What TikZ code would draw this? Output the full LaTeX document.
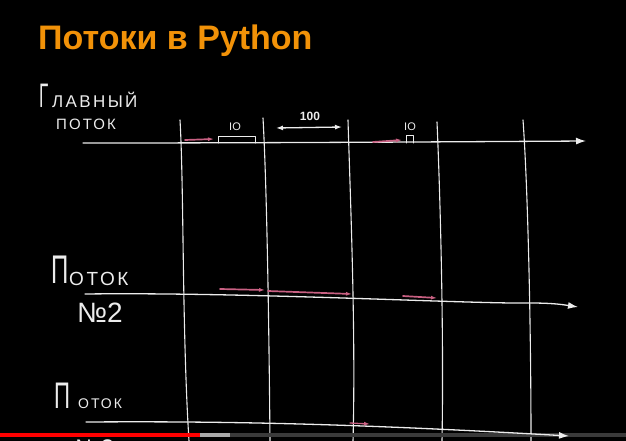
\documentclass[tikz,border=0pt]{standalone}
\usepackage{fontspec}
\setmainfont{Liberation Sans}
\newfontfamily\handfont{Liberation Sans}[LetterSpace=14]
\usetikzlibrary{arrows.meta}

\definecolor{titleorange}{RGB}{242,146,8}
\definecolor{chalk}{RGB}{236,236,236}
\definecolor{chalkpink}{RGB}{200,96,130}
\definecolor{barred}{RGB}{255,0,0}
\definecolor{barlight}{RGB}{170,170,170}
\definecolor{bardark}{RGB}{58,58,58}

\tikzset{
  chalkline/.style={draw=chalk, line width=1.3pt, line cap=round, line join=round},
  gridline/.style={draw=chalk, line width=1.1pt, line cap=round},
  timeline/.style={chalkline, -{Latex[length=10pt,width=7pt]}},
  pinkrun/.style={draw=chalkpink, line width=1.7pt, line cap=round, -{Latex[length=6pt,width=4pt]}},
  handtext/.style={text=chalk, inner sep=0pt, anchor=base west, font=\handfont},
  iolabel/.style={text=chalk, inner sep=0pt, anchor=base, font=\fontsize{11}{11}\selectfont}
}

\begin{document}
\begin{tikzpicture}[x=1pt,y=-1pt]
\fill[black] (0,0) rectangle (626,441);
\useasboundingbox (0,0) rectangle (626,441);
\begin{scope}
\clip (0,0) rectangle (626,441);

% title
\node[text=titleorange, inner sep=0pt, anchor=base west,
      font=\bfseries\fontsize{34}{34}\selectfont] (title) at (38,50) {Потоки в Python};

% thread labels
\node[handtext, font=\fontsize{34}{34}\selectfont] (g1) at (39,108) {\scalebox{0.5}[1]{Г}};
\node[handtext, font=\handfont\fontsize{17}{17}\selectfont] (main1) at (52,108) {ЛАВНЫЙ};
\node[handtext, font=\handfont\fontsize{15}{15}\selectfont] (main2) at (56,130) {ПОТОК};

\node[handtext, font=\fontsize{40}{40}\selectfont] (p2a) at (51,283) {\scalebox{0.6}[1]{П}};
\node[handtext, font=\handfont\fontsize{19}{19}\selectfont] (p2b) at (69,285) {ОТОК};
\node[handtext, font=\fontsize{28}{28}\selectfont] (p2c) at (77,322) {№2};

\node[handtext, font=\fontsize{37}{37}\selectfont] (p3a) at (54,408) {\scalebox{0.6}[1]{П}};
\node[handtext, font=\handfont\fontsize{14}{14}\selectfont] (p3b) at (78,408) {ОТОК};
\node[handtext, font=\fontsize{24}{24}\selectfont] (p3c) at (75,456) {№3};

% time slices
\coordinate (v1t) at (180,120); \coordinate (v1b) at (189,441);
\coordinate (v2t) at (263,118); \coordinate (v2b) at (270,441);
\coordinate (v3t) at (348,120); \coordinate (v3b) at (353,441);
\coordinate (v4t) at (437,122); \coordinate (v4b) at (442,441);
\coordinate (v5t) at (523,120); \coordinate (v5b) at (531,441);
\draw[gridline] (v1t) .. controls (184,190) and (182,330) .. (v1b);
\draw[gridline] (v2t) .. controls (267,190) and (269,330) .. (v2b);
\draw[gridline] (v3t) .. controls (350,190) and (356,330) .. (v3b);
\draw[gridline] (v4t) .. controls (440,190) and (444,330) .. (v4b);
\draw[gridline] (v5t) .. controls (528,190) and (531,330) .. (v5b);

% progress bar
\fill[barred] (0,433) rectangle (200,437);
\fill[barlight] (200,433) rectangle (230,437);
\fill[bardark] (230,433) rectangle (626,437);

% thread timelines
\coordinate (h1s) at (83,143);  \coordinate (h1e) at (586,141);
\coordinate (h2s) at (85,294);  \coordinate (h2e) at (578,307);
\coordinate (h3s) at (86,422);  \coordinate (h3e) at (569,436);
\draw[timeline] (h1s) .. controls (250,143) and (420,142) .. (h1e);
\draw[timeline] (h2s) .. controls (250,292) and (470,304) .. (530,303)
                      .. controls (555,303) and (565,305) .. (h2e);
\draw[timeline] (h3s) .. controls (230,421) and (360,424) .. (h3e);

% main thread: run, then IO
\coordinate (m1a) at (185,140); \coordinate (m1b) at (214,139);
\draw[pinkrun] (m1a) -- (m1b);
\coordinate (io1a) at (218,143); \coordinate (io1b) at (255,136);
\draw[chalkline, line width=1pt] (io1a) |- (io1b) -- (io1b |- io1a);
\node[iolabel] (io1) at (235,131) {IO};

\coordinate (d1) at (276,128); \coordinate (d2) at (342,127);
\draw[chalkline, {Latex[length=7pt,width=5pt]}-{Latex[length=7pt,width=5pt]}] (d1) -- (d2);
\node[iolabel, font=\fontsize{12}{12}\selectfont\bfseries] (t100) at (310,121) {100};

\coordinate (m2a) at (373,142); \coordinate (m2b) at (402,140);
\draw[pinkrun] (m2a) -- (m2b);
\coordinate (io2a) at (406,143); \coordinate (io2b) at (413,135);
\draw[chalkline, line width=1pt] (io2a) |- (io2b) -- (io2b |- io2a);
\node[iolabel] (io2) at (410,131) {IO};

% thread 2 runs
\coordinate (r1a) at (220,289); \coordinate (r1b) at (265,290);
\coordinate (r2a) at (268,291); \coordinate (r2b) at (352,294);
\coordinate (r3a) at (403,296); \coordinate (r3b) at (437,298);
\draw[pinkrun] (r1a) -- (r1b);
\draw[pinkrun] (r2a) -- (r2b);
\draw[pinkrun] (r3a) -- (r3b);

% thread 3 run
\coordinate (s1a) at (350,423); \coordinate (s1b) at (370,424);
\draw[pinkrun, line width=1.3pt] (s1a) -- (s1b);
\end{scope}
\end{tikzpicture}
\end{document}
